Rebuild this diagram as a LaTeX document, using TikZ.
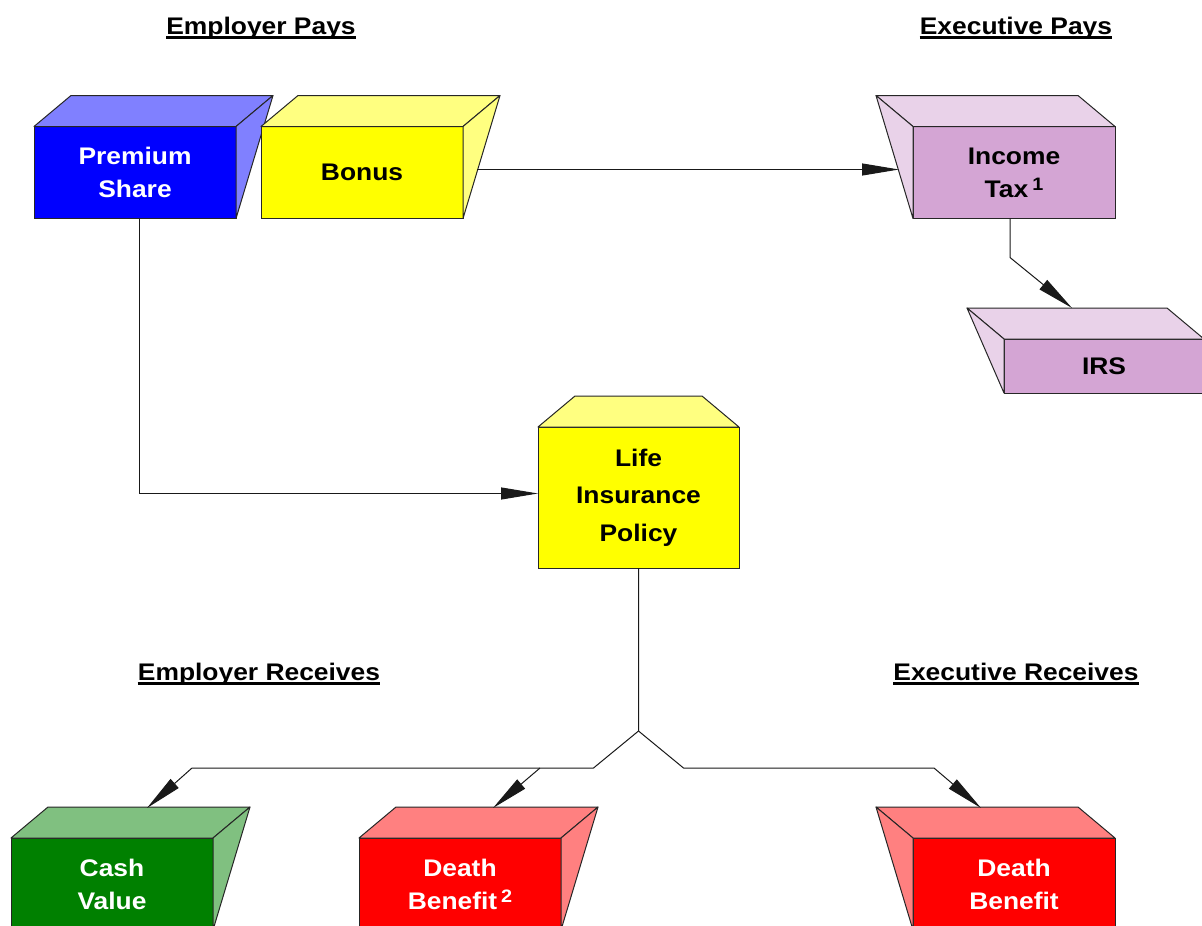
\documentclass[tikz,border=0pt]{standalone}
\usepackage{fontspec}
\setmainfont{Liberation Sans}[FakeStretch=1.1]
\usepackage{tikz}
\usetikzlibrary{arrows.meta}
\definecolor{edgegray}{HTML}{262626}
\definecolor{bluefront}{HTML}{0000FF}
\definecolor{bluelight}{HTML}{8080FF}
\definecolor{yellowfront}{HTML}{FFFF00}
\definecolor{yellowlight}{HTML}{FFFF80}
\definecolor{taxfront}{HTML}{D4A5D4}
\definecolor{taxlight}{HTML}{E9D2E9}
\definecolor{greenfront}{HTML}{008000}
\definecolor{greenlight}{HTML}{80C080}
\definecolor{redfront}{HTML}{FF0000}
\definecolor{redlight}{HTML}{FF8080}
\newcommand{\boxright}[2]{
    \filldraw[face,fill=#2] (#1.north west) -- ++(37,-31) -- ([shift={(37,-31)}]#1.north east) -- (#1.north east) -- cycle;
    \filldraw[face,fill=#2] (#1.north east) -- ++(37,-31) -- (#1.south east) -- cycle;
}
\newcommand{\boxleft}[2]{
    \filldraw[face,fill=#2] (#1.north east) -- ++(-37,-31) -- ([shift={(-37,-31)}]#1.north west) -- (#1.north west) -- cycle;
    \filldraw[face,fill=#2] (#1.north west) -- ++(-37,-31) -- (#1.south west) -- cycle;
}
\newcommand{\boxtop}[2]{
    \filldraw[face,fill=#2] (#1.north west) -- ++(37,-31) -- ([shift={(-37,-31)}]#1.north east) -- (#1.north east) -- cycle;
}
\newcommand{\headline}[1]{
    \draw[line width=2.2pt] ([yshift=-3.5pt]#1.base west) -- ([yshift=-3.5pt]#1.base east);
}
\newcommand{\supnum}[1]{\,\raisebox{7pt}{\fontsize{18}{18}\selectfont #1}}

\begin{document}
\begin{tikzpicture}[x=1pt,y=-1pt,
    front/.style={draw=edgegray, line width=1pt, minimum width=202pt, minimum height=92pt,
        inner sep=0pt, outer sep=0pt, align=center, font=\bfseries\fontsize{24}{33}\selectfont},
    face/.style={draw=edgegray, line width=1pt, line join=round},
    heading/.style={font=\bfseries\fontsize{24}{28}\selectfont, inner sep=0pt, anchor=base},
    conn/.style={draw=black!90, line width=1pt, -{Triangle[length=37pt,width=12pt]}}]
    \useasboundingbox (0,0) rectangle (1202,926);

    \node[heading] (emppays) at (261,34) {Employer Pays};
    \node[heading] (exepays) at (1016,34) {Executive Pays};
    \node[heading] (emprec) at (259,680) {Employer Receives};
    \node[heading] (exerec) at (1016,680) {Executive Receives};
    \headline{emppays}
    \headline{exepays}
    \headline{emprec}
    \headline{exerec}

    \node[front, fill=bluefront, text=white] (prem) at (135,172.5) {Premium\\Share};
    \boxright{prem}{bluelight}
    \node[front, fill=yellowfront] (bonus) at (362,172.5) {Bonus};
    \boxright{bonus}{yellowlight}
    \node[front, fill=taxfront] (tax) at (1014,172.5) {Income\\Tax\supnum{1}};
    \boxleft{tax}{taxlight}
    \node[front, fill=taxfront, minimum width=200pt, minimum height=54pt] (irs) at (1104,366) {IRS};
    \boxleft{irs}{taxlight}
    \node[front, fill=yellowfront, minimum width=201pt, minimum height=141pt,
        font=\bfseries\fontsize{24}{37.5}\selectfont] (life) at (638.5,497.5) {Life\\Insurance\\Policy};
    \boxtop{life}{yellowlight}
    \node[front, fill=greenfront, text=white] (cash) at (112,884) {Cash\\Value};
    \boxright{cash}{greenlight}
    \node[front, fill=redfront, text=white] (dtwo) at (460,884) {Death\\Benefit\supnum{2}};
    \boxright{dtwo}{redlight}
    \node[front, fill=redfront, text=white] (dexec) at (1014,884) {Death\\Benefit};
    \boxleft{dexec}{redlight}

    \coordinate (irsin) at ([shift={(-32,-31)}]irs.north);
    \coordinate (cashin) at ([shift={(35,-30)}]cash.north);
    \coordinate (dtwoin) at ([shift={(33,-30)}]dtwo.north);
    \coordinate (dexecin) at ([shift={(-33,-30)}]dexec.north);

    \draw[conn] ([xshift=4pt]prem.south) |- ([yshift=4pt]life.west);
    \draw[conn] ([shift={(14,-3)}]bonus.east) -- ([shift={(-14,-3)}]tax.west);
    \draw[conn] ([xshift=-4pt]tax.south) -- ++(0,39) -- (irsin);
    \draw[conn] (life.south) -- ++(0,163) coordinate (fork) -- ++(-45,37)
        -- ([shift={(45,-40)}]cashin) -- (cashin);
    \draw[conn] ([shift={(47,-40)}]dtwoin) -- (dtwoin);
    \draw[conn] (fork) -- ++(45,37) -- ([shift={(-47,-40)}]dexecin) -- (dexecin);
\end{tikzpicture}
\end{document}
